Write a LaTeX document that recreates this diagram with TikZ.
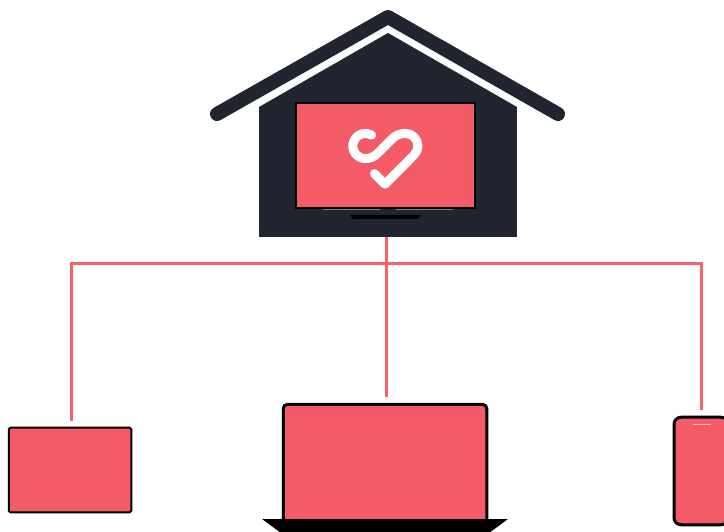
\documentclass[tikz,border=0pt]{standalone}
\definecolor{navy}{HTML}{20252F}
\definecolor{coral}{HTML}{F35C66}
\definecolor{wirered}{HTML}{FA5F6C}
\begin{document}
\begin{tikzpicture}[x=1pt, y=1pt, device/.style={draw=black, fill=coral, rounded corners=1.5pt, line width=2pt, inner sep=0pt}, wire/.style={draw=wirered, line width=3pt}, roof/.style={draw=navy, line width=14pt, line cap=round, line join=round}, logo/.style={draw=white, line width=9pt, line cap=round, line join=round}]
	\useasboundingbox (0,0) rectangle (724,531);
	% house
	\node[fill=navy, minimum width=258pt, minimum height=130pt, inner sep=0pt, outer sep=0pt] (house) at (388,359) {};
	\fill[navy] (house.north west) -- (388,498) -- (house.north east) -- cycle;
	\draw[roof] (217,417) -- (388,514) -- (558,417);
	% screen and its stand
	\node[device, rounded corners=0pt, minimum width=179pt, minimum height=105.5pt] (tv) at (385.5,375.7) {};
	\draw[gray, line width=0.8pt] (323,322) -- (380,322) (396,322) -- (453,322);
	\fill[black] (350,316) -- (421,316) -- (418,312) -- (353,312) -- cycle;
	% heart with tick
	\draw[logo] (365.3,385) ++(60:12.6) arc[start angle=60, end angle=270, radius=12.6] .. controls (371,372.4) and (374.5,374.5) .. (378,378) -- (392,392) .. controls (395.5,395.5) and (399.6,397.6) .. (405.3,397.6) arc[start angle=90, end angle=-45, radius=12.6] -- (385,346.8) -- (374.5,357.3);
	% devices
	\node[device, minimum width=122.5pt, minimum height=84.5pt] (desktop) at (70,61) {};
	\node[device, line width=3pt, rounded corners=4pt, minimum width=203.5pt, minimum height=121.5pt] (laptop) at (385,65.75) {};
	\fill[black] (262,12) -- (508,12) -- (489,-2) -- (281,-2) -- cycle;
	\node[device, line width=3pt, rounded corners=7pt, minimum width=54pt, minimum height=107.5pt] (phone) at (701,60) {};
	\draw[white!60!coral, line width=1pt] (693,106) -- (711,106);
	% wires
	\coordinate (bus) at (386,267);
	\draw[wire] (bus |- house.south) -- ([yshift=6pt]bus |- laptop.north);
	\draw[wire, shorten <=6pt, shorten >=5.5pt] ([xshift=1pt]desktop.north) |- (bus) -| (phone.north);
\end{tikzpicture}
\end{document}
